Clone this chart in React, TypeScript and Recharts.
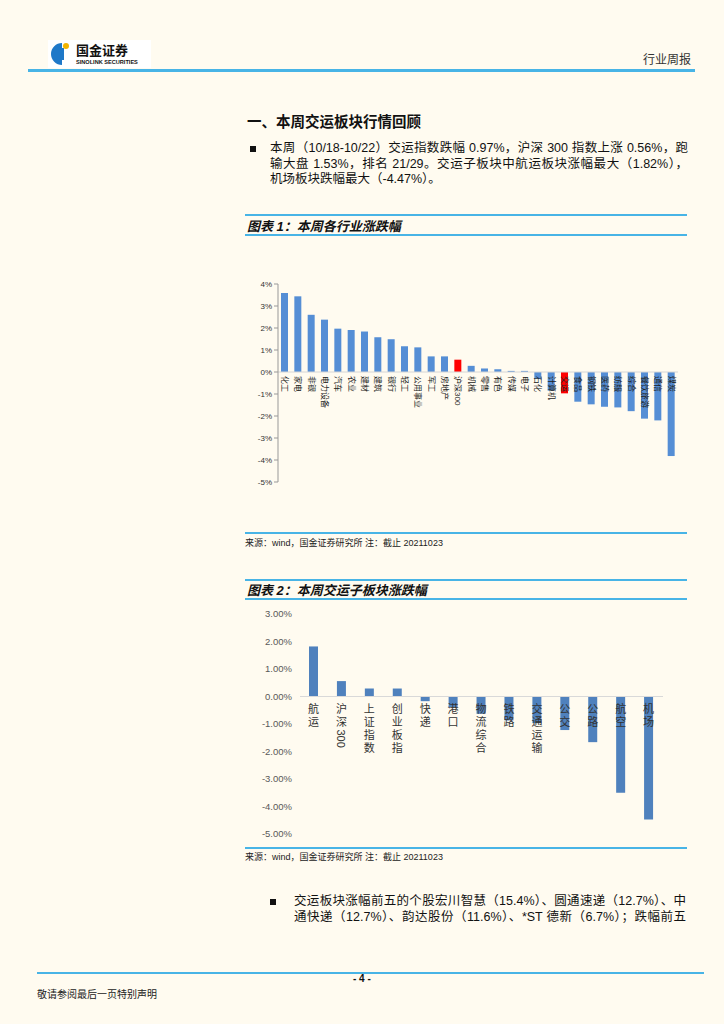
import React from "react";
import { BarChart, Bar, XAxis, YAxis, Cell, ReferenceLine, LabelList } from "recharts";

// 图表1：本周各行业涨跌幅（%）
const industries = [
  "化工", "家电", "非银", "电力设备", "汽车", "农业", "建材", "建筑", "银行", "轻工",
  "公用事业", "军工", "房地产", "沪深300", "机械", "零售", "有色", "传媒", "电子", "石化",
  "计算机", "交运", "食品", "钢铁", "医药", "纺服", "综合", "餐饮旅游", "通信", "煤炭",
];
const industryChange = [
  3.59, 3.44, 2.6, 2.38, 1.97, 1.91, 1.84, 1.58, 1.49, 1.17,
  1.12, 0.71, 0.71, 0.56, 0.28, 0.16, 0.12, 0.05, 0.05, -0.32,
  -0.85, -0.97, -1.35, -1.47, -1.58, -1.61, -1.78, -2.12, -2.2, -3.82,
];
const highlighted = ["沪深300", "交运"];
const industryTicks = [4, 3, 2, 1, 0, -1, -2, -3, -4, -5];

// 图表2：本周交运子板块涨跌幅（%）
const subSectors = [
  "航运", "沪深300", "上证指数", "创业板指", "快递", "港口", "物流综合",
  "铁路", "交通运输", "公交", "公路", "航空", "机场",
];
const subChange = [1.82, 0.56, 0.29, 0.29, -0.17, -0.39, -0.63, -0.87, -0.97, -1.22, -1.66, -3.5, -4.47];
const subTicks = [3, 2, 1, 0, -1, -2, -3, -4, -5];

const industryData = industries.map((name, i) => ({ name, value: industryChange[i] }));
const subData = subSectors.map((name, i) => ({ name, value: subChange[i] }));

const FONT = '"Liberation Sans", "Noto Sans CJK SC", sans-serif';
const BLUE_LINE = "#48B4E6";
const BG = "#FFFBF0";

// bar geometry -> y of the zero line, whichever way recharts signs the height
const zeroOf = (y: number, h: number, v: number) => (v >= 0 ? y + h : h < 0 ? y + h : y);

function IndustryLabel(props: any) {
  const x = Number(props.x), y = Number(props.y), w = Number(props.width), h = Number(props.height);
  const i = props.index;
  const cx = x + w / 2;
  const y0 = zeroOf(y, h, industryChange[i]) + 4;
  return (
    <text
      transform={`translate(${cx},${y0}) rotate(90)`}
      dominantBaseline="central"
      fontSize={8}
      fill="#222"
      fontFamily={FONT}
    >
      {industries[i]}
    </text>
  );
}

function SubLabel(props: any) {
  const x = Number(props.x), y = Number(props.y), w = Number(props.width), h = Number(props.height);
  const i = props.index;
  const cx = x + w / 2;
  let cy = zeroOf(y, h, subChange[i]) + 6;
  const segs = subSectors[i].match(/[0-9]+|./g) || [];
  return (
    <g fontFamily={FONT} fontSize={11} fill="#333">
      {segs.map((s, k) => {
        if (/^[0-9]+$/.test(s)) {
          const el = (
            <text key={k} transform={`translate(${cx},${cy + 1}) rotate(90)`} dominantBaseline="central">
              {s}
            </text>
          );
          cy += s.length * 6.2 + 3;
          return el;
        }
        const el = (
          <text key={k} x={cx} y={cy + 10} textAnchor="middle">
            {s}
          </text>
        );
        cy += 13;
        return el;
      })}
    </g>
  );
}

function Logo() {
  return (
    <div style={{ position: "absolute", left: 48, top: 40, width: 103, height: 28, background: "#fff" }}>
      <svg width={103} height={28} style={{ position: "absolute", left: 0, top: 0 }}>
        <path d="M14 3 A11 11 0 1 0 14 25 L14 19 A5 5 0 1 1 14 9 Z" fill="#1E78C8" />
        <rect x={9} y={8} width={7} height={12} fill="#1E78C8" />
        <circle cx={18} cy={6} r={3} fill="#F2B400" />
        <text x={28} y={15} fontSize={13} fontWeight={700} fill="#111" fontFamily={FONT}>国金证券</text>
        <text x={28} y={24} fontSize={5.6} fontWeight={700} fill="#111" fontFamily={FONT}>SINOLINK SECURITIES</text>
      </svg>
    </div>
  );
}

const abs = (left: number, top: number, extra: React.CSSProperties = {}): React.CSSProperties => ({
  position: "absolute",
  left,
  top,
  ...extra,
});

const hline = (left: number, top: number, width: number, h = 2) => (
  <div style={abs(left, top, { width, height: h, background: BLUE_LINE })} />
);

const bodyLine: React.CSSProperties = {
  fontSize: 12.5,
  lineHeight: "15.5px",
  height: 15.5,
  whiteSpace: "nowrap",
  color: "#111",
};

export default function App() {
  return (
    <div style={{ position: "absolute", left: 0, top: 0, width: 724, height: 1024, background: BG, fontFamily: FONT, overflow: "hidden" }}>
      <Logo />
      <div style={abs(643, 50, { fontSize: 12, color: "#333" })}>行业周报</div>
      {hline(28, 69, 667, 3)}

      <div style={abs(247, 110, { fontSize: 14.5, fontWeight: 700, color: "#111" })}>一、本周交运板块行情回顾</div>

      <div style={abs(250, 146, { width: 6, height: 6, background: "#111" })} />
      <div style={abs(270, 141, { width: 418 })}>
        <div style={{ ...bodyLine, textAlign: "justify", textAlignLast: "justify" }}>
          本周（10/18-10/22）交运指数跌幅 0.97%，沪深 300 指数上涨 0.56%，跑
        </div>
        <div style={{ ...bodyLine, textAlign: "justify", textAlignLast: "justify" }}>
          输大盘 1.53%，排名 21/29。交运子板块中航运板块涨幅最大（1.82%），
        </div>
        <div style={bodyLine}>机场板块跌幅最大（-4.47%）。</div>
      </div>

      {/* 图表1 */}
      {hline(245, 214, 442)}
      <div style={abs(247, 216, { fontSize: 13, fontWeight: 700, fontStyle: "italic", color: "#111" })}>
        图表 1：本周各行业涨跌幅
      </div>
      {hline(245, 234, 442, 1.5)}

      <div style={abs(240, 270)}>
        <BarChart width={450} height={230} data={industryData} margin={{ top: 14, right: 12, bottom: 18, left: 8 }} barSize={7}>
          <XAxis dataKey="name" hide />
          <YAxis
            domain={[-5, 4]}
            ticks={industryTicks}
            width={30}
            interval={0}
            tickFormatter={(v) => `${v}%`}
            tick={{ fontSize: 8, fill: "#333", fontFamily: FONT }}
            axisLine={{ stroke: "#999" }}
            tickLine={{ stroke: "#999" }}
            tickSize={4}
          />
          <ReferenceLine y={0} stroke="#D6D6D6" />
          <Bar dataKey="value" isAnimationActive={false}>
            {industryData.map((d) => (
              <Cell key={d.name} fill={highlighted.includes(d.name) ? "#FF0000" : "#558ED5"} />
            ))}
            <LabelList dataKey="name" content={<IndustryLabel />} />
          </Bar>
        </BarChart>
      </div>

      {hline(245, 532, 442, 1.5)}
      <div style={abs(245, 536, { fontSize: 9, color: "#222" })}>来源：wind，国金证券研究所 注：截止 20211023</div>

      {/* 图表2 */}
      {hline(245, 579, 442)}
      <div style={abs(247, 580, { fontSize: 13, fontWeight: 700, fontStyle: "italic", color: "#111" })}>
        图表 2：本周交运子板块涨跌幅
      </div>
      {hline(245, 598, 442, 1.5)}

      <div style={abs(240, 600)}>
        <BarChart width={450} height={250} data={subData} margin={{ top: 14, right: 27, bottom: 16, left: 5 }} barSize={9}>
          <XAxis dataKey="name" hide />
          <YAxis
            domain={[-5, 3]}
            ticks={subTicks}
            width={55}
            interval={0}
            tickFormatter={(v) => `${Number(v).toFixed(2)}%`}
            tick={{ fontSize: 9.5, fill: "#595959", fontFamily: FONT }}
            axisLine={false}
            tickLine={false}
          />
          <ReferenceLine y={0} stroke="#D9D9D9" />
          <Bar dataKey="value" fill="#4F81BD" isAnimationActive={false}>
            <LabelList dataKey="name" content={<SubLabel />} />
          </Bar>
        </BarChart>
      </div>

      {hline(245, 847, 442, 1.5)}
      <div style={abs(245, 850, { fontSize: 9, color: "#222" })}>来源：wind，国金证券研究所 注：截止 20211023</div>

      <div style={abs(270, 899, { width: 6, height: 6, background: "#111" })} />
      <div style={abs(294, 894, { width: 392 })}>
        <div style={{ ...bodyLine, textAlign: "justify", textAlignLast: "justify" }}>
          交运板块涨幅前五的个股宏川智慧（15.4%）、圆通速递（12.7%）、中
        </div>
        <div style={{ ...bodyLine, textAlign: "justify", textAlignLast: "justify" }}>
          通快递（12.7%）、韵达股份（11.6%）、*ST 德新（6.7%）；跌幅前五
        </div>
      </div>

      {hline(37, 972, 667, 1.5)}
      <div style={abs(353, 973, { fontSize: 10, fontWeight: 700, color: "#111" })}>- 4 -</div>
      <div style={abs(37, 986, { fontSize: 10, color: "#222" })}>敬请参阅最后一页特别声明</div>
    </div>
  );
}
